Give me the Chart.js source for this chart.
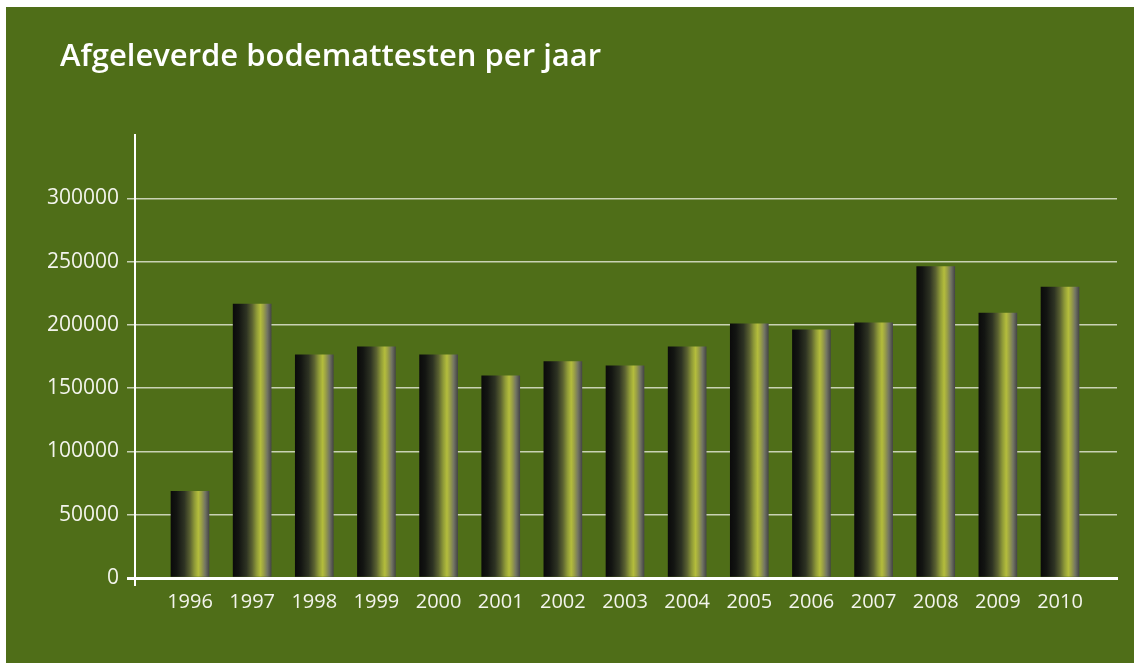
<!DOCTYPE html>
<html>
<head>
<meta charset="utf-8">
<script src="https://cdn.jsdelivr.net/npm/chart.js@4/dist/chart.umd.min.js"></script>
<style>
  html, body { margin: 0; padding: 0; background: #ffffff; }
  #wrap { position: absolute; left: 6px; top: 7px; width: 1128px; height: 656px; background: #4f6e18; }
</style>
</head>
<body>
<div id="wrap"><canvas id="bodemChart" width="1128" height="656"></canvas></div>
<script>
    // gegevens
    const titel = 'Afgeleverde bodemattesten per jaar';
    const jaren = [1996, 1997, 1998, 1999, 2000, 2001, 2002, 2003, 2004, 2005, 2006, 2007, 2008, 2009, 2010];
    const attesten = [68500, 216500, 176400, 182700, 176400, 159800, 170900, 167700, 182700, 200800, 196000, 201600, 246100, 209400, 229900];
    const yTicks = [0, 50000, 100000, 150000, 200000, 250000, 300000];

    const tekstKleur = '#f3f4ec';

    // titel tekenen
    const titelPlugin = {
      id: 'titel',
      afterDraw(chart) {
        const c = chart.ctx;
        c.save();
        c.fillStyle = '#ffffff';
        c.font = '600 31px "Open Sans"';
        c.textBaseline = 'alphabetic';
        c.fillText(titel, 54, 59);
        c.restore();
      }
    };

    // klein streepje onder de y-as
    const asPlugin = {
      id: 'asVerlenging',
      afterDraw(chart) {
        const a = chart.chartArea, c = chart.ctx;
        c.save();
        c.strokeStyle = '#ffffff';
        c.lineWidth = 2;
        c.beginPath();
        c.moveTo(a.left, a.bottom);
        c.lineTo(a.left, a.bottom + 8);
        c.stroke();
        c.restore();
      }
    };

    function staafKleur(ctx) {
      const chart = ctx.chart;
      const xs = chart.scales.x;
      if (!xs || ctx.type !== 'data') return '#555555';
      const cx = xs.getPixelForValue(jaren[ctx.dataIndex]);
      if (!isFinite(cx)) return '#555555';
      const g = chart.ctx.createLinearGradient(cx - 19, 0, cx + 19, 0);
      g.addColorStop(0, '#0b0b0b');
      g.addColorStop(0.15, '#131512');
      g.addColorStop(0.35, '#2e3323');
      g.addColorStop(0.5, '#5b6231');
      g.addColorStop(0.62, '#8f9a38');
      g.addColorStop(0.72, '#b4bd3c');
      g.addColorStop(0.8, '#9aa046');
      g.addColorStop(0.9, '#737563');
      g.addColorStop(1, '#474747');
      return g;
    }

    const bodemChart = new Chart(document.getElementById('bodemChart'), {
      type: 'bar',
      data: {
        datasets: [{
          label: 'Bodemattesten',
          data: jaren.map((j, i) => ({ x: j, y: attesten[i] })),
          backgroundColor: staafKleur,
          borderWidth: 0,
          barThickness: 38,
        }]
      },
      options: {
        responsive: false,
        animation: false,
        layout: { padding: { top: 128, right: 17, left: 0, bottom: 0 } },
        plugins: { legend: { display: false }, tooltip: { enabled: false } },
        scales: {
          x: {
            type: 'linear',
            offset: false,
            min: 1995.115,
            max: 2010.917,
            afterBuildTicks: s => { s.ticks = jaren.map(v => ({ value: v })); },
            afterFit: s => { s.height = 85; },
            grid: { display: false },
            border: { display: true, color: '#ffffff', width: 3 },
            ticks: {
              color: tekstKleur,
              font: { family: 'Open Sans', size: 20 },
              padding: 4,
              maxRotation: 0,
              autoSkip: false,
              callback: v => String(v),
            },
          },
          y: {
            min: 0,
            max: 350000,
            afterBuildTicks: s => { s.ticks = yTicks.map(v => ({ value: v })); },
            afterFit: s => { s.width = 129; },
            grid: {
              color: c => c.tick && c.tick.value === 0 ? '#ffffff' : '#c9d2b4',
              lineWidth: c => c.tick && c.tick.value === 0 ? 3 : 1.5,
              tickLength: 8,
            },
            border: { display: true, color: '#ffffff', width: 2 },
            ticks: {
              color: tekstKleur,
              font: { family: 'Open Sans', size: 21 },
              padding: 8,
              callback: v => String(v),
            },
          },
        },
      },
      plugins: [titelPlugin, asPlugin],
    });
    bodemChart.update();
</script>
</body>
</html>
